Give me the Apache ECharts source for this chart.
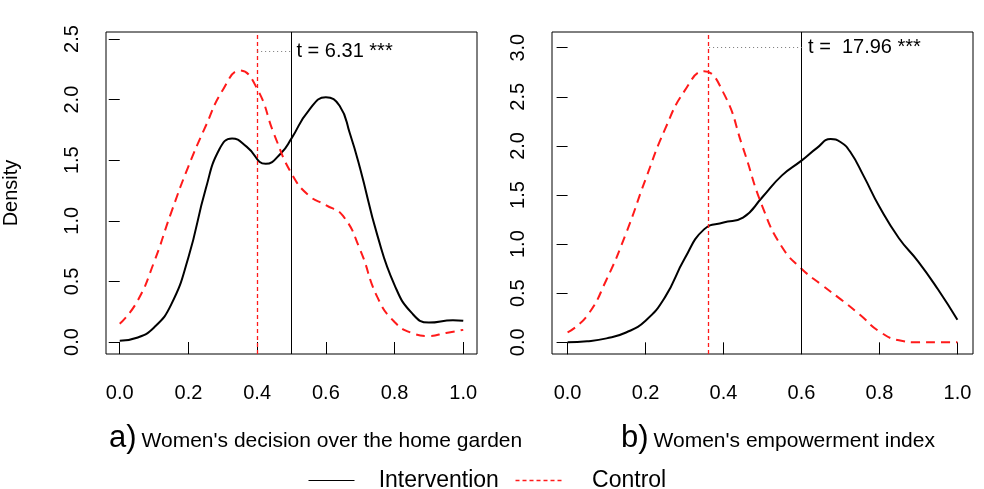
<!DOCTYPE html>
<html>
<head>
<meta charset="utf-8">
<script src="https://cdn.jsdelivr.net/npm/echarts@6.0.0/dist/echarts.min.js"></script>
<style>
  html, body { margin: 0; padding: 0; background: #fff; }
  #chart { width: 984px; height: 489px; }
</style>
</head>
<body>
<div id="chart"></div>
<script>
// ---- data (x positions include the bumps/peaks) ----
// panel a: women's decision over the home garden
const xA_int = [0, 0.05, 0.1, 0.15, 0.2, 0.25, 0.29, 0.327, 0.37, 0.425, 0.47, 0.5, 0.55, 0.6, 0.64, 0.67, 0.7, 0.75, 0.8, 0.85, 0.9, 0.97, 1];
const yA_int = [0.01, 0.035, 0.12, 0.31, 0.70, 1.26, 1.59, 1.68, 1.61, 1.47, 1.56, 1.68, 1.91, 2.02, 1.95, 1.72, 1.43, 0.88, 0.47, 0.24, 0.16, 0.18, 0.175];
const xA_ctl = [0, 0.05, 0.1, 0.15, 0.2, 0.25, 0.3, 0.35, 0.4, 0.45, 0.5, 0.55, 0.6, 0.65, 0.7, 0.75, 0.8, 0.85, 0.9, 0.95, 1];
const yA_ctl = [0.15, 0.33, 0.66, 1.07, 1.45, 1.78, 2.08, 2.24, 2.09, 1.71, 1.39, 1.21, 1.13, 1.04, 0.76, 0.37, 0.165, 0.075, 0.05, 0.075, 0.10];

// panel b: women's empowerment index
const xB_int = [0, 0.05, 0.1, 0.15, 0.2, 0.25, 0.3, 0.35, 0.4, 0.45, 0.5, 0.55, 0.6, 0.64, 0.675, 0.7, 0.725, 0.76, 0.8, 0.85, 0.9, 0.95, 1];
const yB_int = [0, 0.01, 0.04, 0.10, 0.22, 0.46, 0.85, 1.15, 1.22, 1.27, 1.48, 1.70, 1.85, 1.98, 2.07, 2.04, 1.94, 1.69, 1.38, 1.06, 0.82, 0.54, 0.23];
const xB_ctl = [0, 0.05, 0.1, 0.15, 0.2, 0.25, 0.3, 0.35, 0.4, 0.45, 0.5, 0.55, 0.6, 0.65, 0.7, 0.75, 0.8, 0.85, 0.9, 0.95, 1];
const yB_ctl = [0.10, 0.27, 0.64, 1.11, 1.66, 2.17, 2.56, 2.76, 2.54, 1.98, 1.38, 0.97, 0.75, 0.59, 0.44, 0.28, 0.11, 0.02, 0, 0, 0];

// group means (control, intervention) and the t-test annotation
const meansA = [0.4, 0.5];
const meansB = [0.363, 0.604];
const tLineA = 2.4;
const tLineB = 3.0;
const tTextA = "t = 6.31 ***";
const tTextB = "t =  17.96 ***";

// tick labels
const xTicks = [0, 0.2, 0.4, 0.6, 0.8, 1];
const yTicksA = [0, 0.5, 1, 1.5, 2, 2.5];
const yTicksB = [0, 0.5, 1, 1.5, 2, 2.5, 3];

const seriesNames = ["Intervention", "Control"];
const titleA = ["a)", "Women's decision over the home garden"];
const titleB = ["b)", "Women's empowerment index"];

// ---- styling ----
const font = "'Liberation Sans', Arial, Helvetica, sans-serif";
const RED = "#ff1a1a";

const zip = (xv, yv) => xv.map((x, i) => [x, yv[i]]);

function xAxisFor(gi) {
  return {
    gridIndex: gi, type: "value", min: -0.04, max: 1.04,
    axisLine: { show: false },
    splitLine: { show: false },
    axisTick: { show: true, length: 12, customValues: xTicks, lineStyle: { color: "#000", width: 1 } },
    axisLabel: { customValues: xTicks, formatter: (v) => v.toFixed(1), fontSize: 20, color: "#000", margin: 29, fontFamily: font },
  };
}

function yAxisFor(gi, min, max, ticks, name) {
  return {
    gridIndex: gi, type: "value", min: min, max: max,
    name: name || "", nameLocation: "middle", nameGap: 85, nameRotate: 90,
    nameTextStyle: { fontSize: 20, color: "#000", fontFamily: font },
    axisLine: { show: false },
    splitLine: { show: false },
    axisTick: { show: true, length: 11, customValues: ticks, lineStyle: { color: "#000", width: 1 } },
    axisLabel: { customValues: ticks, rotate: 90, formatter: (v) => v.toFixed(1), fontSize: 20, color: "#000", margin: 24, fontFamily: font },
  };
}

// one pair of density curves + mean lines for a panel
function panelSeries(gi, intData, ctlData, means, tY, tText) {
  return [
    {
      name: seriesNames[0], type: "line", xAxisIndex: gi, yAxisIndex: gi,
      data: intData, smooth: 0.5, symbol: "none", silent: true,
      lineStyle: { color: "#000", width: 2 }, itemStyle: { color: "#000" },
      markLine: {
        silent: true, symbol: "none", animation: false, label: { show: false },
        data: [{ xAxis: means[1], lineStyle: { color: "#000", width: 1, type: "solid" } }],
      },
    },
    {
      name: seriesNames[1], type: "line", xAxisIndex: gi, yAxisIndex: gi,
      data: ctlData, smooth: 0.5, symbol: "none", silent: true,
      lineStyle: { color: RED, width: 2, type: [9, 6] }, itemStyle: { color: RED },
      markLine: {
        silent: true, symbol: "none", animation: false, label: { show: false },
        data: [
          { xAxis: means[0], lineStyle: { color: RED, width: 1.3, type: [4, 3], opacity: 1 } },
          [
            {
              coord: [means[0], tY],
              lineStyle: { color: "#777", width: 1, type: [1, 3] },
              label: { show: true, position: "end", formatter: tText, fontSize: 20, color: "#000", distance: 5, fontFamily: font },
            },
            { coord: [means[1], tY] },
          ],
        ],
      },
    },
  ];
}

function titleFor(left, parts) {
  return {
    left: left, top: 423, padding: 0,
    text: "{big|" + parts[0] + "} {sm|" + parts[1] + "}",
    textStyle: {
      fontWeight: "normal",
      rich: {
        big: { fontSize: 31, fontWeight: "normal", color: "#000", fontFamily: font, verticalAlign: "bottom" },
        sm: { fontSize: 21, fontWeight: "normal", color: "#000", fontFamily: font, verticalAlign: "bottom", padding: [0, 0, 2, 0] },
      },
    },
  };
}

const chart = echarts.init(document.getElementById("chart"));

const option = {
  animation: false,
  backgroundColor: "#fff",
  title: [titleFor(109, titleA), titleFor(621, titleB)],
  legend: {
    left: 308, top: 469, padding: 0, itemWidth: 46, itemHeight: 14, itemGap: 16,
    data: [
      { name: seriesNames[0], lineStyle: { color: "#000", width: 1 } },
      { name: seriesNames[1], lineStyle: { color: RED, width: 1.3, type: [4, 3] } },
    ],
    itemStyle: { opacity: 0 },
    formatter: (n) => (n === seriesNames[1] ? "    " : "   ") + n,
    textStyle: { fontSize: 23, color: "#000", fontFamily: font },
    selectedMode: false,
  },
  grid: [
    { left: 105, top: 32, width: 372, height: 322, show: true, borderColor: "#000", borderWidth: 1, backgroundColor: "transparent" },
    { left: 552, top: 32, width: 421, height: 322, show: true, borderColor: "#000", borderWidth: 1, backgroundColor: "transparent" },
  ],
  xAxis: [xAxisFor(0), xAxisFor(1)],
  yAxis: [
    yAxisFor(0, -0.099, 2.558, yTicksA, "Density"),
    yAxisFor(1, -0.119, 3.16, yTicksB, ""),
  ],
  series: [
    ...panelSeries(0, zip(xA_int, yA_int), zip(xA_ctl, yA_ctl), meansA, tLineA, tTextA),
    ...panelSeries(1, zip(xB_int, yB_int), zip(xB_ctl, yB_ctl), meansB, tLineB, tTextB),
  ],
};

chart.setOption(option);
</script>
</body>
</html>
